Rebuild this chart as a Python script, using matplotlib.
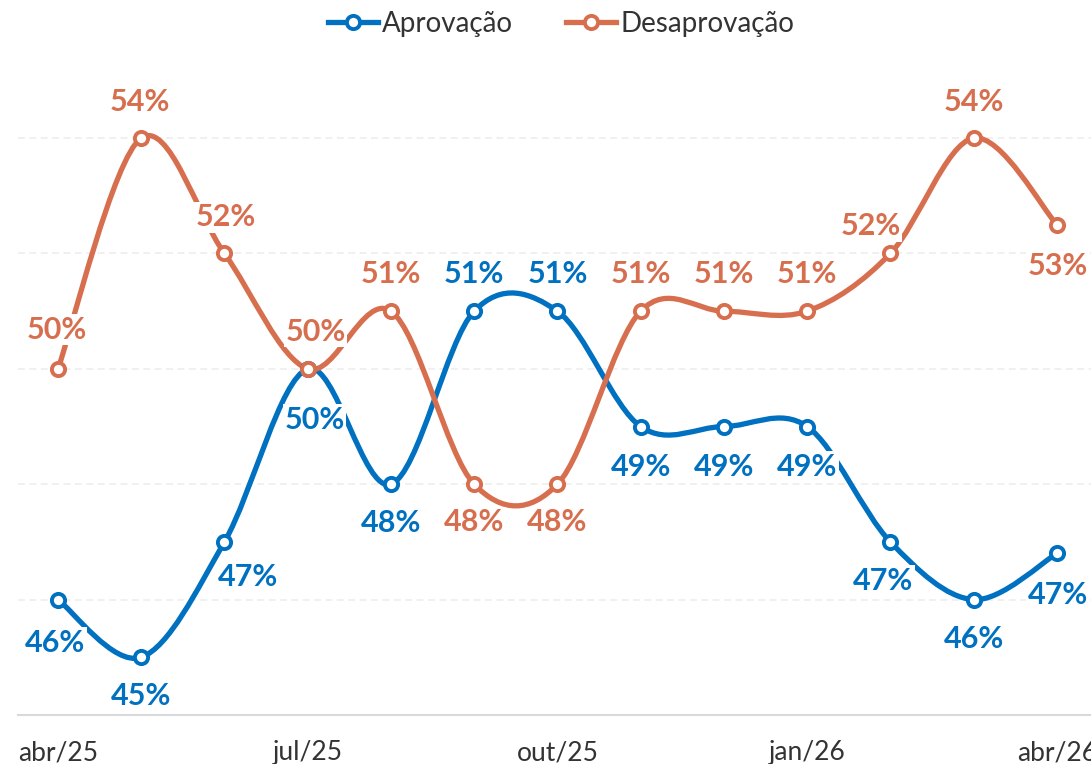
import matplotlib
matplotlib.use('Agg')
import matplotlib.pyplot as plt
from matplotlib.path import Path
from matplotlib.patches import PathPatch
from matplotlib.lines import Line2D
import numpy as np

plt.rcParams['font.family'] = ['Lato', 'DejaVu Sans']
plt.rcParams['lines.scale_dashes'] = False

meses = ['abr/25', 'mai/25', 'jun/25', 'jul/25', 'ago/25', 'set/25', 'out/25',
         'nov/25', 'dez/25', 'jan/26', 'fev/26', 'mar/26', 'abr/26']
aprovacao = [46, 45, 47, 50, 48, 51, 51, 49, 49, 49, 47, 46, 46.8]
desaprovacao = [50, 54, 52, 50, 51, 48, 48, 51, 51, 51, 52, 54, 52.5]

# deslocamento dos rótulos (pixels) em relação ao ponto
desl_aprov = [(-3, -43), (0, -39), (24, -35), (7, -51), (0, -39), (0, 37),
              (0, 37), (0, -40), (0, -40), (0, -40), (-7, -39), (0, -39),
              (1, -42)]
desl_desaprov = [(-1, 39), (-1, 36), (1, 36), (8, 37), (0, 37), (0, -38),
                 (0, -38), (0, 37), (0, 37), (0, 37), (-20, 27), (0, 36),
                 (1, -41)]

AZUL = '#0070c0'
LARANJA = '#d76f4f'


def curva(xs, ys):
    # catmull-rom -> bezier cúbica
    pts = np.column_stack([xs, ys]).astype(float)
    ext = np.vstack([pts[0], pts, pts[-1]])
    verts = [pts[0]]
    codes = [Path.MOVETO]
    for i in range(1, len(ext) - 2):
        p0, p1, p2, p3 = ext[i - 1], ext[i], ext[i + 1], ext[i + 2]
        verts += [p1 + (p2 - p0) / 6, p2 - (p3 - p1) / 6, p2]
        codes += [Path.CURVE4] * 3
    return Path(verts, codes)


fig = plt.figure(figsize=(10.91, 7.64), dpi=100)
ax = fig.add_axes([18 / 1091, 49 / 764, 1 - 18 / 1091, 645 / 764])

x = np.arange(len(meses))
for serie, cor, desl in [(aprovacao, AZUL, desl_aprov),
                         (desaprovacao, LARANJA, desl_desaprov)]:
    ax.add_patch(PathPatch(curva(x, serie), fill=False, edgecolor=cor,
                           lw=3.8, capstyle='round', joinstyle='round',
                           zorder=3))
    ax.plot(x, serie, 'o', ms=9.5, mfc='white', mec=cor, mew=2.8, zorder=4)
    for xi, v, (dx, dy) in zip(x, serie, desl):
        ax.annotate('%d%%' % int(v + 0.5), (xi, v), xytext=(dx, dy),
                    textcoords='offset pixels', ha='center', va='center',
                    fontsize=22, fontweight='bold', color=cor, zorder=5,
                    bbox=dict(boxstyle='square,pad=0.05', fc='white',
                              ec='none'))

ax.set_xlim(-0.48, 12.41)
ax.set_ylim(44, 55.18)
ax.set_yticks([46, 48, 50, 52, 54])
ax.yaxis.grid(True, color='#ececec', lw=1.1, linestyle=(0, (5, 3.2)))
ax.set_axisbelow(True)
ax.set_xticks(x[::3])
ax.set_xticklabels(meses[::3])
ax.tick_params(axis='y', left=False, labelleft=False)
ax.tick_params(axis='x', length=0, pad=18, labelsize=19, labelcolor='#333333')
for s in ['top', 'left', 'right']:
    ax.spines[s].set_visible(False)
ax.spines['bottom'].set_color('#d9d9d9')
ax.spines['bottom'].set_linewidth(1.5)

handles = [Line2D([], [], color=c, lw=3.8, marker='o', ms=9.5, mfc='white',
                  mec=c, mew=2.8) for c in (AZUL, LARANJA)]
fig.legend(handles, ['Aprovação', 'Desaprovação'], loc='center',
           bbox_to_anchor=(561 / 1091, 1 - 24 / 764), ncol=2, frameon=False,
           fontsize=20, handlelength=1.8, handletextpad=0.15,
           columnspacing=1.9, labelcolor='#333333')

fig.savefig('out.png', dpi=100)
